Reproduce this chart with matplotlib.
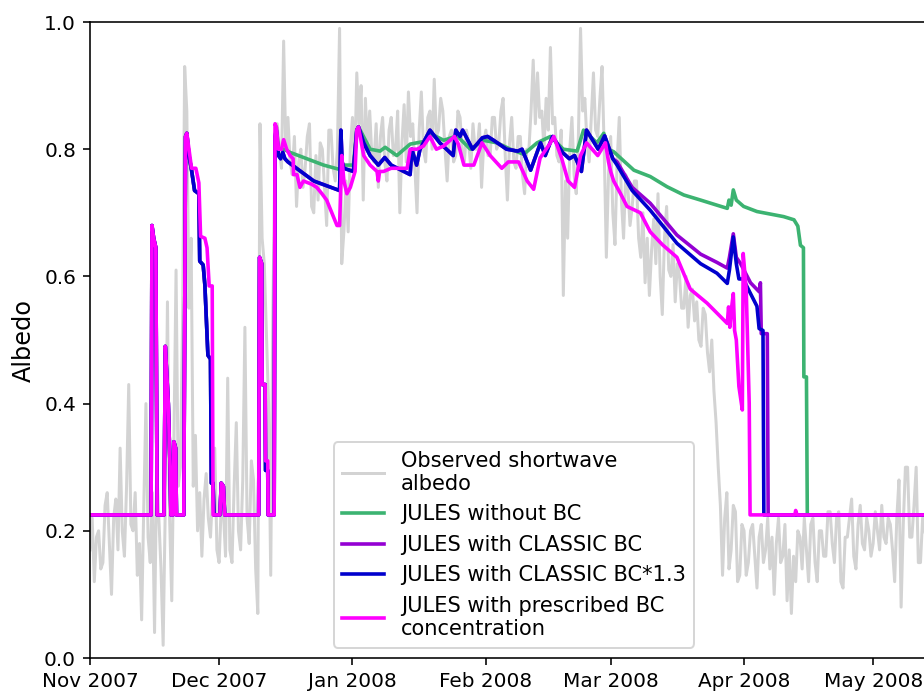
import pandas as pd
import matplotlib
matplotlib.use("Agg")
import matplotlib.pyplot as plt
import matplotlib.dates as mdates

START = pd.Timestamp("2007-11-01")

# observed shortwave albedo, two values per day from 1 Nov 2007 (5 days per row)
obs_albedo = [
    0.17, 0.22, 0.12, 0.19, 0.20, 0.14, 0.15, 0.24, 0.26, 0.18,
    0.10, 0.22, 0.25, 0.17, 0.33, 0.20, 0.16, 0.27, 0.43, 0.21,
    0.20, 0.26, 0.13, 0.18, 0.06, 0.24, 0.40, 0.19, 0.15, 0.26,
    0.04, 0.30, 0.22, 0.14, 0.02, 0.24, 0.56, 0.22, 0.09, 0.34,
    0.61, 0.27, 0.30, 0.52, 0.93, 0.86, 0.55, 0.66, 0.27, 0.35,
    0.20, 0.26, 0.16, 0.25, 0.29, 0.22, 0.19, 0.26, 0.33, 0.17,
    0.15, 0.24, 0.23, 0.16, 0.44, 0.17, 0.15, 0.27, 0.37, 0.20,
    0.17, 0.28, 0.52, 0.22, 0.18, 0.31, 0.28, 0.14, 0.07, 0.84,
    0.66, 0.62, 0.51, 0.40, 0.13, 0.55, 0.80, 0.84, 0.80, 0.77,
    0.97, 0.80, 0.85, 0.78, 0.76, 0.82, 0.71, 0.78, 0.80, 0.74,
    0.77, 0.82, 0.84, 0.71, 0.70, 0.79, 0.72, 0.81, 0.80, 0.74,
    0.68, 0.83, 0.83, 0.77, 0.75, 0.80, 0.99, 0.62, 0.67, 0.75,
    0.67, 0.80, 0.85, 0.77, 0.92, 0.84, 0.90, 0.72, 0.88, 0.80,
    0.86, 0.79, 0.78, 0.84, 0.74, 0.82, 0.85, 0.78, 0.75, 0.83,
    0.85, 0.79, 0.80, 0.86, 0.70, 0.81, 0.87, 0.78, 0.89, 0.82,
    0.84, 0.77, 0.70, 0.83, 0.89, 0.80, 0.78, 0.85, 0.86, 0.80,
    0.91, 0.82, 0.83, 0.88, 0.86, 0.80, 0.75, 0.82, 0.83, 0.78,
    0.79, 0.86, 0.85, 0.80, 0.78, 0.83, 0.81, 0.77, 0.84, 0.80,
    0.80, 0.84, 0.74, 0.81, 0.83, 0.79, 0.79, 0.85, 0.85, 0.80,
    0.81, 0.86, 0.88, 0.79, 0.72, 0.81, 0.85, 0.78, 0.77, 0.82,
    0.82, 0.76, 0.73, 0.80, 0.80, 0.86, 0.94, 0.84, 0.92, 0.85,
    0.86, 0.80, 0.88, 0.83, 0.96, 0.84, 0.85, 0.79, 0.78, 0.83,
    0.57, 0.75, 0.66, 0.80, 0.85, 0.76, 0.73, 0.82, 0.99, 0.86,
    0.88, 0.81, 0.78, 0.85, 0.92, 0.83, 0.82, 0.88, 0.93, 0.80,
    0.63, 0.76, 0.82, 0.70, 0.65, 0.78, 0.85, 0.72, 0.66, 0.76,
    0.74, 0.68, 0.71, 0.75, 0.75, 0.66, 0.63, 0.70, 0.59, 0.66,
    0.57, 0.64, 0.69, 0.62, 0.73, 0.60, 0.54, 0.66, 0.71, 0.61,
    0.60, 0.65, 0.56, 0.62, 0.60, 0.55, 0.55, 0.60, 0.52, 0.57,
    0.58, 0.53, 0.56, 0.50, 0.49, 0.55, 0.54, 0.48, 0.45, 0.50,
    0.42, 0.37, 0.30, 0.24, 0.13, 0.22, 0.26, 0.14, 0.17, 0.24,
    0.23, 0.12, 0.13, 0.21, 0.20, 0.13, 0.15, 0.20, 0.21, 0.16,
    0.11, 0.19, 0.21, 0.15, 0.17, 0.22, 0.14, 0.19, 0.10, 0.18,
    0.22, 0.15, 0.16, 0.21, 0.09, 0.17, 0.07, 0.16, 0.12, 0.20,
    0.19, 0.14, 0.22, 0.17, 0.12, 0.21, 0.22, 0.15, 0.12, 0.20,
    0.20, 0.16, 0.16, 0.23, 0.23, 0.18, 0.15, 0.22, 0.23, 0.12,
    0.11, 0.19, 0.19, 0.22, 0.25, 0.16, 0.14, 0.21, 0.24, 0.18,
    0.17, 0.22, 0.20, 0.16, 0.18, 0.23, 0.20, 0.17, 0.24, 0.19,
    0.18, 0.22, 0.21, 0.17, 0.12, 0.22, 0.28, 0.08, 0.21, 0.30,
    0.30, 0.19, 0.19, 0.24, 0.30, 0.15, 0.15, 0.22, 0.20, 0.18,
]

# JULES runs: breakpoints as (days since 1 Nov 2007, albedo)
# first snowfalls are the same in every run
early_days = [0, 14.2, 14.4, 14.8, 15.3, 15.6, 17.2, 17.5, 18.2, 18.6, 18.8,
              19.3, 19.5, 19.9, 20.1, 21.8]
early_vals = [0.225, 0.225, 0.68, 0.66, 0.645, 0.225, 0.225, 0.49, 0.40, 0.30, 0.225,
              0.225, 0.34, 0.33, 0.225, 0.225]

# late Nov / early Dec events, no BC and CLASSIC runs
nov_days = [22.2, 22.5, 23.0, 23.6, 24.3, 25.3, 25.5, 26.3, 26.7, 27.4, 28.0,
            28.2, 28.6, 28.8, 30.2, 30.5, 31.0, 31.3, 39.2, 39.4, 39.9, 40.0,
            40.7, 40.8, 41.3, 41.4, 42.8]
nov_vals = [0.82, 0.825, 0.79, 0.767, 0.735, 0.73, 0.624, 0.618, 0.586, 0.476, 0.47,
            0.275, 0.275, 0.225, 0.225, 0.275, 0.27, 0.225, 0.225, 0.63, 0.62, 0.43,
            0.43, 0.295, 0.295, 0.225, 0.225]

# no BC, from the mid-December snowpack onwards
nobc_days = [43.0, 43.3, 43.8, 45.0, 46.5, 50.4, 54.3, 58.1, 58.5, 61.2, 62.0,
             62.4, 65.1, 67.4, 68.6, 71.3, 74.4, 77.5, 79.0, 82.2, 85.3, 88.4,
             91.4, 94.6, 97.7, 100.8, 103.9, 107.0, 110.0, 113.2, 114.7, 117.8,
             119.4, 120.5, 121.7, 126.4, 130.2, 134.1, 138.0, 141.9, 145.7,
             148.1, 148.5, 149.0, 149.5, 150.2, 151.9, 155.0, 161.2, 163.6,
             164.5, 165.1, 165.8, 165.9, 166.5, 166.7, 197]
nobc_vals = [0.82, 0.835, 0.80, 0.80, 0.795, 0.785, 0.775, 0.768, 0.775, 0.775, 0.83,
             0.835, 0.80, 0.797, 0.803, 0.79, 0.808, 0.812, 0.825, 0.814, 0.821, 0.80,
             0.814, 0.81, 0.80, 0.792, 0.81, 0.82, 0.80, 0.797, 0.83, 0.81,
             0.825, 0.80, 0.796, 0.767, 0.757, 0.741, 0.728, 0.72, 0.712,
             0.707, 0.72, 0.712, 0.736, 0.72, 0.71, 0.702, 0.694, 0.689,
             0.679, 0.649, 0.645, 0.442, 0.442, 0.225, 0.225]

# CLASSIC BC runs share the winter part
bc_days = [43.0, 43.3, 43.8, 44.3, 44.8, 45.3, 46.0, 48.0, 50.0, 52.0, 54.0,
           56.0, 58.0, 58.3, 58.6, 59.0, 61.2, 62.0, 62.4, 63.6, 65.1, 67.0,
           68.5, 70.0, 74.4, 74.8, 75.9, 76.7, 79.0, 81.3, 84.4, 85.0, 86.0,
           86.6, 88.9, 91.2, 92.4, 93.8, 96.8, 99.4, 100.4, 102.4, 104.7,
           105.8, 107.5, 109.8, 111.4, 112.6, 114.2, 115.4, 118.1, 119.6, 121.5]
bc_vals = [0.82, 0.83, 0.79, 0.785, 0.795, 0.785, 0.78, 0.77, 0.76, 0.75, 0.745,
           0.74, 0.735, 0.83, 0.78, 0.77, 0.765, 0.83, 0.835, 0.81, 0.79, 0.775,
           0.787, 0.775, 0.76, 0.80, 0.775, 0.80, 0.83, 0.81, 0.79, 0.83, 0.82,
           0.83, 0.80, 0.818, 0.82, 0.814, 0.80, 0.797, 0.80, 0.767, 0.81,
           0.79, 0.82, 0.795, 0.785, 0.79, 0.765, 0.83, 0.80, 0.821, 0.785]

classic_tail_days = [122.5, 123.8, 126.0, 130.2, 136.4, 141.9, 145.7, 148.1, 148.6,
                     149.5, 150.2, 151.2, 153.5, 155.5, 155.8, 156.0, 157.4, 157.6, 197]
classic_tail_vals = [0.78, 0.765, 0.74, 0.715, 0.665, 0.635, 0.622, 0.613, 0.63,
                     0.667, 0.63, 0.62, 0.59, 0.576, 0.59, 0.51, 0.51, 0.225, 0.225]

classic13_tail_days = [122.5, 123.8, 126.0, 130.2, 136.4, 141.9, 145.7, 148.1, 148.6,
                       149.5, 150.2, 150.8, 151.8, 153.5, 155.0, 155.5, 156.4, 156.6, 197]
classic13_tail_vals = [0.775, 0.76, 0.735, 0.704, 0.652, 0.62, 0.605, 0.589, 0.61,
                       0.662, 0.62, 0.596, 0.596, 0.573, 0.553, 0.518, 0.515, 0.225, 0.225]

# prescribed BC concentration run
presc_days = [22.2, 22.5, 22.8, 23.6, 24.6, 25.3, 25.7, 26.7, 27.2, 27.7, 28.4,
              28.6, 30.2, 30.5, 31.0, 31.3, 39.2, 39.4, 39.9, 40.0, 40.7, 40.8,
              41.3, 41.4, 42.8,
              43.0, 43.3, 43.8, 44.5, 45.0, 45.7, 46.5, 47.2, 47.3, 48.1, 48.8,
              49.6, 51.5, 52.7, 53.9, 55.0, 56.2, 57.4, 58.0, 58.5, 59.0, 59.7,
              60.5, 61.6, 62.0, 62.4, 63.6, 65.1, 66.7, 67.0, 67.3, 68.2, 70.0,
              73.7, 74.4, 76.0, 77.5, 79.0, 80.5, 82.2, 84.7, 85.6, 86.9, 89.2,
              91.1, 93.0, 95.7, 97.2, 99.6, 101.6, 103.1, 104.6, 107.0, 107.8,
              109.6, 111.1, 112.6, 114.0, 115.4, 118.0, 119.8, 120.5, 121.0,
              121.7, 123.3, 124.8, 127.9, 130.2, 133.0, 136.4, 139.5, 143.4,
              148.1, 148.4, 148.7, 149.0, 149.5, 149.8, 150.2, 150.8, 151.6,
              151.8, 152.5, 153.2, 153.4, 163.8, 164.0, 164.3, 197]
presc_vals = [0.82, 0.825, 0.81, 0.77, 0.77, 0.747, 0.663, 0.66, 0.645, 0.585, 0.585,
              0.225, 0.225, 0.275, 0.27, 0.225, 0.225, 0.63, 0.62, 0.43, 0.43, 0.31,
              0.31, 0.225, 0.225,
              0.84, 0.835, 0.80, 0.80, 0.815, 0.80, 0.79, 0.785, 0.76, 0.76, 0.74,
              0.75, 0.745, 0.74, 0.73, 0.72, 0.70, 0.68, 0.68, 0.79, 0.75, 0.73,
              0.74, 0.765, 0.83, 0.835, 0.79, 0.775, 0.765, 0.75, 0.765, 0.765, 0.77,
              0.77, 0.80, 0.80, 0.805, 0.82, 0.80, 0.805, 0.82, 0.808, 0.775, 0.775,
              0.81, 0.79, 0.77, 0.78, 0.78, 0.75, 0.737, 0.786, 0.81, 0.82,
              0.786, 0.75, 0.74, 0.79, 0.81, 0.79, 0.81, 0.78, 0.765,
              0.75, 0.73, 0.71, 0.70, 0.67, 0.65, 0.63, 0.58, 0.558,
              0.526, 0.552, 0.52, 0.545, 0.573, 0.515, 0.50, 0.427, 0.39,
              0.636, 0.58, 0.40, 0.225, 0.225, 0.232, 0.225, 0.225]


def to_dates(days):
    return START + pd.to_timedelta(days, unit="D")


obs_dates = to_dates([i / 2 for i in range(len(obs_albedo))])

runs = [
    ("JULES without BC", "mediumseagreen",
     early_days + nov_days + nobc_days, early_vals + nov_vals + nobc_vals),
    ("JULES with CLASSIC BC", "darkviolet",
     early_days + nov_days + bc_days + classic_tail_days,
     early_vals + nov_vals + bc_vals + classic_tail_vals),
    ("JULES with CLASSIC BC*1.3", "mediumblue",
     early_days + nov_days + bc_days + classic13_tail_days,
     early_vals + nov_vals + bc_vals + classic13_tail_vals),
    ("JULES with prescribed BC\nconcentration", "magenta",
     early_days + presc_days, early_vals + presc_vals),
]

fig = plt.figure(figsize=(924 / 144, 694 / 144), dpi=144)
ax = fig.add_axes([90 / 924, 36 / 694, 197 * 4.303 / 924, 636 / 694])

ax.plot(obs_dates, obs_albedo, color="lightgray", lw=1.5,
        label="Observed shortwave\nalbedo")
for label, colour, days, vals in runs:
    ax.plot(to_dates(days), vals, color=colour, lw=1.8, label=label)

ax.set_ylim(0, 1.0)
ax.set_xlim(START, START + pd.Timedelta(days=197))
ax.xaxis.set_major_locator(mdates.MonthLocator())
ax.xaxis.set_major_formatter(mdates.DateFormatter("%b %Y"))
ax.set_ylabel("Albedo", fontsize=12)
ax.legend(loc="lower center", fontsize=10.5)

fig.savefig("out.png", dpi=144)
